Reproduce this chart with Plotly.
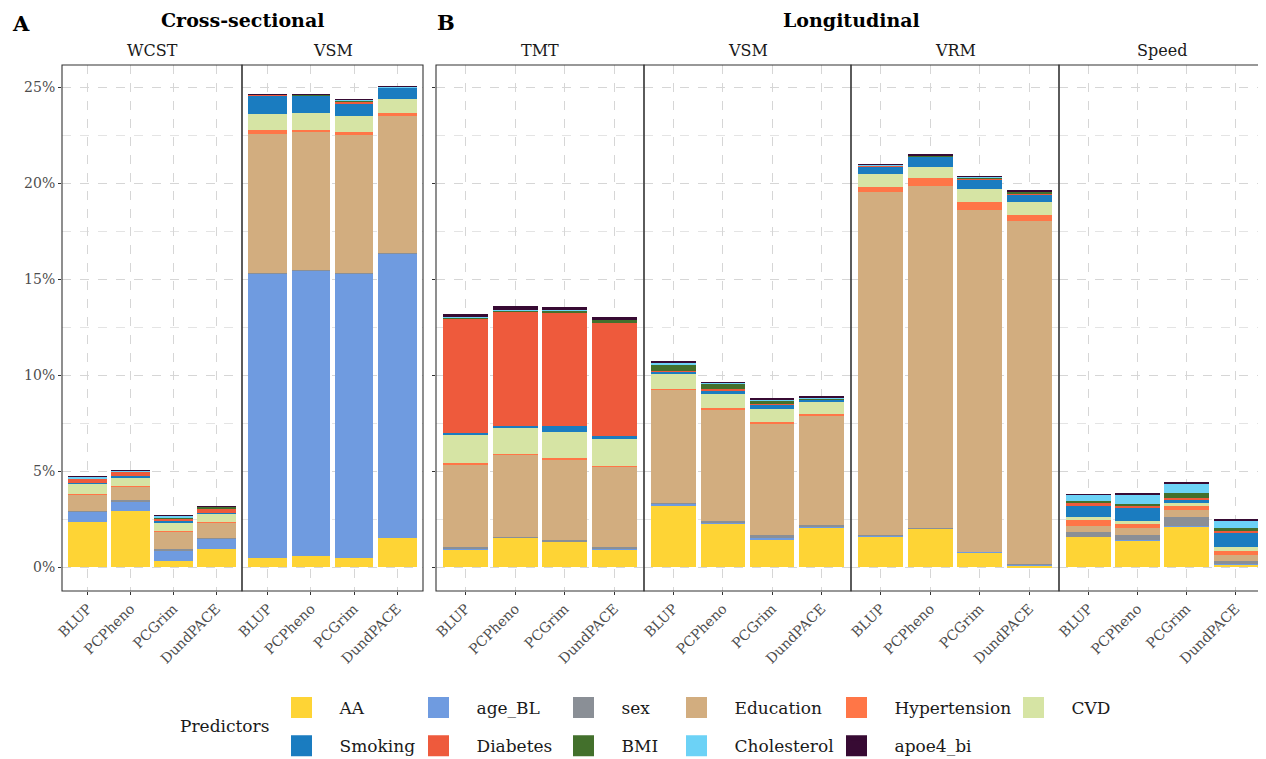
import plotly.graph_objects as go

# ---------------- data (percent of variance explained) ----------------
models = ["BLUP", "PCPheno", "PCGrim", "DundPACE"]
predictors = ["AA", "age_BL", "sex", "Education", "Hypertension", "CVD",
              "Smoking", "Diabetes", "BMI", "Cholesterol", "apoe4_bi"]
colors = ["#FED435", "#6F9BE0", "#8A8F96", "#D2AD7F", "#FF7647", "#D6E4A4",
          "#1A7CC0", "#EE5A3C", "#43702C", "#6CD2F6", "#370A33"]
y_tick_vals = [0, 5, 10, 15, 20, 25]
y_tick_text = ["0%", "5%", "10%", "15%", "20%", "25%"]

# rows follow `predictors`, columns follow `models`
wcst_cs = [
    [2.33, 2.92, 0.31, 0.93],
    [0.55, 0.52, 0.56, 0.55],
    [0.05, 0.03, 0.05, 0.05],
    [0.85, 0.72, 0.92, 0.77],
    [0.05, 0.03, 0.04, 0.04],
    [0.50, 0.45, 0.45, 0.44],
    [0.06, 0.06, 0.10, 0.04],
    [0.20, 0.25, 0.10, 0.25],
    [0.02, 0.01, 0.03, 0.08],
    [0.10, 0.04, 0.12, 0.02],
    [0.01, 0.01, 0.01, 0.01],
]
vsm_cs = [
    [0.45, 0.60, 0.45, 1.50],
    [14.85, 14.87, 14.85, 14.85],
    [0.02, 0.02, 0.02, 0.02],
    [7.22, 7.17, 7.20, 7.15],
    [0.24, 0.12, 0.14, 0.14],
    [0.80, 0.88, 0.86, 0.73],
    [0.97, 0.89, 0.64, 0.59],
    [0.04, 0.03, 0.08, 0.01],
    [0.01, 0.01, 0.08, 0.01],
    [0.02, 0.01, 0.01, 0.01],
    [0.01, 0.01, 0.01, 0.01],
]
tmt_long = [
    [0.93, 1.52, 1.31, 0.93],
    [0.02, 0.01, 0.01, 0.02],
    [0.12, 0.05, 0.08, 0.12],
    [4.28, 4.29, 4.19, 4.17],
    [0.07, 0.02, 0.07, 0.02],
    [1.45, 1.36, 1.38, 1.43],
    [0.12, 0.12, 0.33, 0.12],
    [5.94, 5.94, 5.87, 5.91],
    [0.09, 0.05, 0.14, 0.17],
    [0.03, 0.01, 0.01, 0.01],
    [0.14, 0.23, 0.14, 0.10],
]
vsm_long = [
    [3.19, 2.26, 1.46, 2.05],
    [0.13, 0.04, 0.08, 0.04],
    [0.01, 0.08, 0.13, 0.10],
    [5.94, 5.85, 5.83, 5.69],
    [0.02, 0.07, 0.07, 0.07],
    [0.76, 0.69, 0.69, 0.66],
    [0.12, 0.23, 0.23, 0.10],
    [0.03, 0.05, 0.03, 0.02],
    [0.32, 0.28, 0.14, 0.05],
    [0.11, 0.05, 0.03, 0.02],
    [0.10, 0.02, 0.13, 0.12],
]
vrm_long = [
    [1.58, 1.99, 0.74, 0.07],
    [0.08, 0.04, 0.05, 0.06],
    [0.02, 0.02, 0.01, 0.02],
    [17.87, 17.81, 17.81, 17.87],
    [0.26, 0.40, 0.40, 0.33],
    [0.64, 0.59, 0.66, 0.65],
    [0.42, 0.54, 0.54, 0.43],
    [0.02, 0.02, 0.04, 0.05],
    [0.01, 0.01, 0.06, 0.07],
    [0.06, 0.01, 0.01, 0.01],
    [0.01, 0.06, 0.04, 0.05],
]
speed_long = [
    [1.57, 1.38, 2.12, 0.12],
    [0.02, 0.02, 0.02, 0.02],
    [0.24, 0.26, 0.45, 0.17],
    [0.33, 0.37, 0.38, 0.34],
    [0.28, 0.22, 0.21, 0.21],
    [0.18, 0.13, 0.17, 0.19],
    [0.61, 0.71, 0.16, 0.75],
    [0.10, 0.07, 0.09, 0.10],
    [0.11, 0.14, 0.25, 0.14],
    [0.33, 0.46, 0.50, 0.40],
    [0.01, 0.08, 0.08, 0.08],
]

facet_names = ["WCST", "VSM", "TMT", "VSM", "VRM", "Speed"]
facet_data = [wcst_cs, vsm_cs, tmt_long, vsm_long, vrm_long, speed_long]

# ---------------- layout geometry ----------------
# the page body adds an 8px margin, so the figure is drawn 8px in from the window edge
OFF = 8
W, H = 1266 - OFF, 759 - OFF
# plot area in page pixels: x 62..1265, y 65..591
ML = 62 - OFF
MT = 65 - OFF
MR = W - (1265 - OFF)
MB = H - (591 - OFF)
PW = W - ML - MR
PH = H - MT - MB


def px2x(px):
    return (px - OFF - ML) / PW


def px2y(py):
    return (H - MB - (py - OFF)) / PH


panel_px = [(62, 242), (242, 423), (436, 644), (644, 851), (851, 1059), (1059, 1265)]
FONT = "DejaVu Serif"
GRID = "#D6D6D6"
BORDER = "#333333"
TICK_COLOR = "#4D4D4D"

fig = go.Figure()

xnames = ["x"] + [f"x{i}" for i in range(2, 7)]
for i, (name, data) in enumerate(zip(facet_names, facet_data)):
    xa = xnames[i]
    ya = "y" if i < 2 else "y2"
    for p, col, vals in zip(predictors, colors, data):
        fig.add_trace(go.Bar(
            x=models, y=vals, xaxis=xa, yaxis=ya,
            marker=dict(color=col, line=dict(width=0)),
            name=p, legendgroup=p, showlegend=False,
            hovertemplate=f"{name} %{{x}}<br>{p}: %{{y:.2f}}%<extra></extra>",
        ))

# legend keys (one small legend per column, like ggplot's 2-row key)
key_centers = [301.5, 438.5, 583.5, 696.5, 856.5, 1033.5]
legend_names = ["legend"] + [f"legend{i}" for i in range(2, 7)]
for k in range(6):
    for idx in (k, k + 6):
        if idx < len(predictors):
            fig.add_trace(go.Scatter(
                x=[None], y=[None], xaxis="x", yaxis="y", mode="markers",
                marker=dict(symbol="square", size=16, color=colors[idx],
                            line=dict(color=colors[idx], width=5)),
                name=predictors[idx], legendgroup=predictors[idx],
                legend=legend_names[k], showlegend=True,
            ))

layout = dict(
    width=W, height=H,
    margin=dict(l=ML, r=MR, t=MT, b=MB, autoexpand=False),
    barmode="stack", bargap=0.1,
    plot_bgcolor="white", paper_bgcolor="white",
    font=dict(family=FONT, size=14, color="#1A1A1A"),
    showlegend=True,
)

for i, xa in enumerate(xnames):
    key = "xaxis" if i == 0 else f"xaxis{i + 1}"
    layout[key] = dict(
        domain=[px2x(panel_px[i][0]), px2x(panel_px[i][1])],
        anchor="y" if i < 2 else "y2",
        type="category", categoryorder="array", categoryarray=models,
        range=[-0.6, 3.6],
        showgrid=True, gridcolor=GRID, griddash="dash", gridwidth=1,
        ticks="outside", ticklen=3, tickcolor=BORDER, tickwidth=1,
        tickangle=-45, tickfont=dict(size=14, color=TICK_COLOR, family=FONT),
        showline=False, zeroline=False, fixedrange=True,
    )

yaxis_common = dict(
    range=[-1.245, 26.15],
    tickmode="array", tickvals=y_tick_vals, ticktext=y_tick_text,
    showgrid=True, gridcolor=GRID, griddash="dash", gridwidth=1,
    minor=dict(dtick=2.5, tick0=0, showgrid=True, gridcolor="#E4E4E4",
               griddash="dash", gridwidth=0.7),
    ticks="outside", ticklen=3, tickcolor=BORDER, tickwidth=1,
    tickfont=dict(size=14, color=TICK_COLOR, family=FONT),
    showline=False, zeroline=False, fixedrange=True,
)
layout["yaxis"] = dict(yaxis_common, anchor="x", domain=[0, 1])
layout["yaxis2"] = dict(yaxis_common, anchor="x3", domain=[0, 1], showticklabels=False)

for k in range(6):
    key = legend_names[k]
    layout[key] = dict(
        x=px2x(key_centers[k] - 38), xanchor="left",
        y=px2y(690), yanchor="top",
        orientation="v", traceorder="grouped", tracegroupgap=13,
        itemwidth=66, itemsizing="trace",
        font=dict(size=17, family=FONT, color="#1A1A1A"),
        bgcolor="rgba(0,0,0,0)", borderwidth=0,
    )

shapes = []
for i, xa in enumerate(xnames):
    ya = "y" if i < 2 else "y2"
    shapes.append(dict(type="rect", xref=f"{xa} domain", yref=f"{ya} domain",
                       x0=0, x1=1, y0=0, y1=1, line=dict(color=BORDER, width=1.1),
                       fillcolor="rgba(0,0,0,0)", layer="above"))
layout["shapes"] = shapes

ann = []
for i, name in enumerate(facet_names):
    cx = (panel_px[i][0] + panel_px[i][1]) / 2
    ann.append(dict(text=name, x=px2x(cx), y=px2y(50), xref="paper", yref="paper",
                    showarrow=False, xanchor="center", yanchor="middle",
                    font=dict(size=16, color="#1A1A1A", family=FONT)))
ann.append(dict(text="<b>Cross-sectional</b>", x=px2x(242), y=px2y(20), xref="paper", yref="paper",
                showarrow=False, xanchor="center", yanchor="middle",
                font=dict(size=19, color="black", family=FONT)))
ann.append(dict(text="<b>Longitudinal</b>", x=px2x(851), y=px2y(20), xref="paper", yref="paper",
                showarrow=False, xanchor="center", yanchor="middle",
                font=dict(size=19, color="black", family=FONT)))
ann.append(dict(text="<b>A</b>", x=px2x(21), y=px2y(24), xref="paper", yref="paper",
                showarrow=False, xanchor="center", yanchor="middle",
                font=dict(size=21, color="black", family=FONT)))
ann.append(dict(text="<b>B</b>", x=px2x(446), y=px2y(22), xref="paper", yref="paper",
                showarrow=False, xanchor="center", yanchor="middle",
                font=dict(size=21, color="black", family=FONT)))
ann.append(dict(text="Predictors", x=px2x(178), y=px2y(726), xref="paper", yref="paper",
                showarrow=False, xanchor="left", yanchor="middle",
                font=dict(size=17, color="#1A1A1A", family=FONT)))
layout["annotations"] = ann

fig.update_layout(layout)
fig.write_html("out.html")
